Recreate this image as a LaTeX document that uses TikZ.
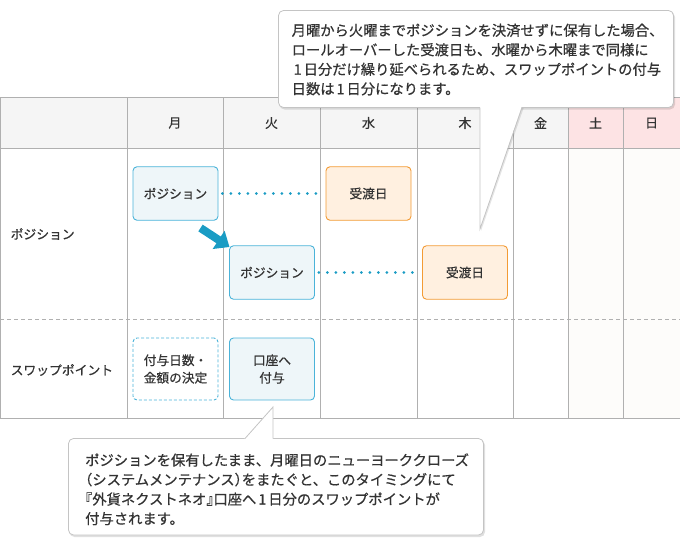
\documentclass[tikz,border=0pt]{standalone}
\usepackage{fontspec}
\setmainfont{Noto Sans CJK JP}[FakeBold=0.6]
\usetikzlibrary{arrows.meta}
\definecolor{txt}{HTML}{333333}
\definecolor{gridc}{HTML}{B0B0B0}
\definecolor{hdr}{HTML}{F5F5F5}
\definecolor{wkhdr}{HTML}{FDE3E4}
\definecolor{wkbody}{HTML}{FDFCFA}
\definecolor{bluebd}{HTML}{4AB3D9}
\definecolor{bluefill}{HTML}{EEF6F9}
\definecolor{orgbd}{HTML}{F39B35}
\definecolor{orgfill}{HTML}{FFF0E0}
\definecolor{arrowc}{HTML}{1A9CC4}
\definecolor{callbd}{HTML}{C4C4C4}
\newcommand{\hw}[1]{{\addfontfeatures{RawFeature=+halt}#1}}
\newcommand{\one}{\kern2pt 1\kern2pt}
\tikzset{
  gridline/.style={draw=gridc, line width=0.9pt},
  daylabel/.style={text=txt, font=\fontsize{13}{15}\selectfont, inner sep=0pt},
  rowlabel/.style={text=txt, font=\fontsize{12.8}{15}\selectfont, inner sep=0pt, anchor=west},
  posbox/.style={draw=bluebd, fill=bluefill, line width=0.9pt, rounded corners=4pt,
     minimum width=85pt, minimum height=53.5pt, text=txt, align=center,
     font=\fontsize{12.7}{17.5}\selectfont, inner sep=0pt},
  dlvbox/.style={posbox, draw=orgbd, fill=orgfill},
  pendbox/.style={posbox, fill=white, dash pattern=on 3pt off 2pt},
  dotline/.style={draw=arrowc, line width=3pt, line cap=round, dash pattern=on 0pt off 8.5pt, shorten <=4pt, shorten >=3pt},
  calltext/.style={text=txt, font=\fontsize{14.3}{19.5}\selectfont, align=left, inner sep=0pt, anchor=west},
  callshape/.style={fill=white, draw=callbd, line width=0.8pt},
}
\begin{document}
\begin{tikzpicture}[x=1pt,y=-1pt]
\useasboundingbox (0,0) rectangle (680,546);
% table backgrounds
\fill[hdr] (0,97) rectangle (568,148);
\fill[wkhdr] (568,97) rectangle (680,148);
\fill[wkbody] (568,148) rectangle (680,418);
% grid
\draw[gridline] (0,97) -- (680,97);
\draw[gridline] (0,148) -- (680,148);
\draw[gridline] (0,418) -- (680,418);
\draw[gridline, dash pattern=on 3.5pt off 3.5pt] (0,319) -- (680,319);
\foreach \x in {0.5,127,223,320,417,513,568,623} {
  \draw[gridline] (\x,97) -- (\x,418);
}
% header labels
\node[daylabel] (mon) at (175,123) {月};
\node[daylabel] (tue) at (271.5,123) {火};
\node[daylabel] (wed) at (368.5,123) {水};
\node[daylabel] (thu) at (465,123) {木};
\node[daylabel] (fri) at (540.5,123) {金};
\node[daylabel] (sat) at (595.5,123) {土};
\node[daylabel] (sun) at (651.5,123) {日};
% row labels
\node[rowlabel] (rpos) at (10.5,234) {ポジション};
\node[rowlabel] (rswap) at (10.5,370) {スワップポイント};
% boxes
\node[posbox] (p1) at (175.5,193.5) {ポジション};
\node[posbox] (p2) at (272,272.5) {ポジション};
\node[dlvbox] (d1) at (368.5,193.5) {受渡日};
\node[dlvbox] (d2) at (465,272.5) {受渡日};
\node[pendbox, minimum height=62pt] (s1) at (175.5,369) {付与日数・\\金額の決定};
\node[posbox, minimum height=62pt] (s2) at (272,369) {口座へ\\付与};
% dotted connectors
\draw[dotline] (p1.east) -- (d1.west);
\draw[dotline] (p2.east) -- (d2.west);
% arrow
\coordinate (at) at (200.5,228);
\coordinate (ah) at (229.5,247);
\draw[arrowc, line width=8pt, -{Triangle[width=21pt,length=13pt]}] (at) -- (ah);
% callout 1 (top)
\fill[black, opacity=0.12, rounded corners=5pt] (279.5,12) rectangle (675,109.5);
\fill[black, opacity=0.10] (481.5,107) -- (481,231) -- (524,107) -- cycle;
\draw[callshape, rounded corners=5pt] (278.5,10.5) rectangle (673.5,107.5);
\fill[white] (480,106) -- (480,229) -- (522,106) -- cycle;
\draw[draw=callbd, line width=0.8pt] (480,107.5) -- (480,229) -- (522,107.5);
\node[calltext] (c1) at (291.5,59.5) {月曜から火曜までポジションを決済せずに保有した場合、\\ロールオーバーした受渡日も、水曜から木曜まで同様に\\\one 日分だけ繰り延べられるため、スワップポイントの付与\\日数は\one 日分になります。};
% callout 2 (bottom)
\fill[black, opacity=0.12, rounded corners=5pt] (69.5,440) rectangle (485,537);
\draw[callshape, rounded corners=5pt] (68.5,438.5) rectangle (483.5,535);
\fill[white] (244,439.5) -- (273,407) -- (273,439.5) -- cycle;
\draw[draw=callbd, line width=0.8pt] (245,438.5) -- (273,407) -- (273,438.5);
\node[calltext] (c2) at (85,489.3) {ポジションを保有したまま、月曜日のニューヨーククローズ\\\hw{（}システムメンテナンス\hw{）}をまたぐと、このタイミングにて\\\hw{『}外貨ネクストネオ\hw{』}口座へ\one 日分のスワップポイントが\\付与されます。};
\end{tikzpicture}
\end{document}
